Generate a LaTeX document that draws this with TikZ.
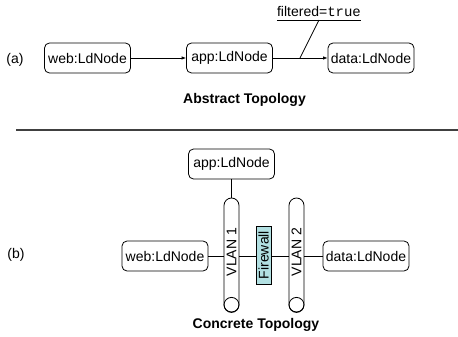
\documentclass[tikz,border=0pt]{standalone}
\usepackage{fontspec}
\setmainfont{Liberation Sans}
\setmonofont{Liberation Mono}
\usepackage{graphicx}
\usetikzlibrary{arrows.meta,calc}
\definecolor{fwcyan}{RGB}{178,224,226}
\begin{document}
\begin{tikzpicture}[x=1pt,y=-1pt,
  font=\fontsize{14}{16}\selectfont,
  ldnode/.style={draw, rounded corners=5pt, minimum width=86pt, minimum height=30pt,
    inner xsep=2pt, inner ysep=0pt, line width=0.8pt},
  tube/.style={draw, rounded corners=7.5pt, minimum width=15pt, minimum height=114pt,
    inner sep=0pt, line width=0.8pt},
  fw/.style={draw, fill=fwcyan, minimum width=15pt, minimum height=58pt,
    inner sep=0pt, line width=0.6pt},
  link/.style={line width=0.8pt},
  flow/.style={link, -{Latex[length=4.5pt,width=3.5pt]}},
  caption/.style={font=\fontsize{14}{16}\selectfont\bfseries},
]
\useasboundingbox (0,0) rectangle (458,337);

% (a) abstract topology
\node (lbla) at (15,60) {(a)};
\node[ldnode] (aweb)  at (87.5,58)  {web:LdNode};
\node[ldnode] (aapp)  at (229.5,58) {app:LdNode};
\node[ldnode] (adata) at (371,58)   {data:LdNode};
\coordinate (tap) at (300,58);
\draw[flow] (aweb) -- (aapp);
\draw[link] (aapp) -- (tap);
\draw[flow] (tap) -- (adata);

\node[inner sep=0pt, anchor=base] (filt) at (319,17) {filtered=\texttt{true}};
\draw[link] ($(filt.base west)+(0,3)$) -- ($(filt.base east)+(0,3)$);
\draw[link] ($(filt.base)+(0,3)$) -- (tap);

\node[caption] (absc) at (244.5,100) {Abstract Topology};

% separator
\coordinate (sepL) at (16,130);
\coordinate (sepR) at (458,130);
\draw[line width=1.6pt, black!75] (sepL) -- (sepR);

% (b) concrete topology
\node (lblb) at (16,255) {(b)};
\node[ldnode] (bapp)  at (231.5,164) {app:LdNode};
\node[ldnode] (bweb)  at (165,256)   {web:LdNode};
\node[ldnode] (bdata) at (366,256)   {data:LdNode};

\node[tube] (vlan1) at (231.5,255) {\rotatebox{90}{\hspace{6pt}VLAN 1}};
\node[tube] (vlan2) at (296.5,255) {\rotatebox{90}{\hspace{6pt}VLAN 2}};
\draw[link] ($(vlan1.south)+(0,-7.5)$) circle (7.5pt);
\draw[link] ($(vlan2.south)+(0,-7.5)$) circle (7.5pt);
\node[fw] (fw) at (263.5,255) {\rotatebox{90}{Firewall}};

\draw[link] (bapp) -- (vlan1);
\draw[link] (bweb.east) -- (bweb.east -| vlan1.west);
\draw[link] (vlan1.east |- bweb.east) -- (fw.west |- bweb.east);
\draw[link] (fw.east |- bweb.east) -- (vlan2.west |- bweb.east);
\draw[link] (vlan2.east |- bweb.east) -- (bdata.west);

\node[caption] (conc) at (256,325) {Concrete Topology};
\end{tikzpicture}
\end{document}
